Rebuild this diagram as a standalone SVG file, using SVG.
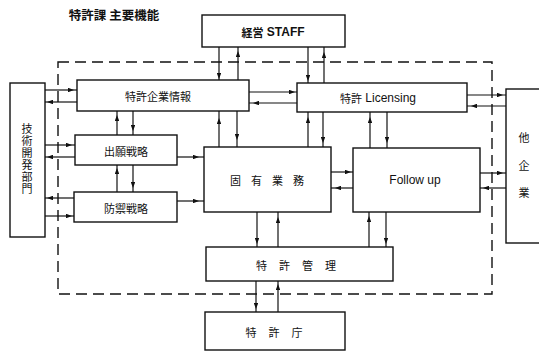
<svg xmlns="http://www.w3.org/2000/svg" width="539" height="351" viewBox="0 0 539 351">
<defs>
<style>
.box{fill:#fff;stroke:#111;stroke-width:1.4}
.c{fill:none;stroke:#111;stroke-width:1.2;marker-mid:url(#ah)}
.d{fill:none;stroke:#111;stroke-width:1.4;stroke-dasharray:11 6}
.t{font-family:"Noto Sans CJK JP","Liberation Sans",sans-serif;font-size:11px;fill:#111;text-anchor:middle;dominant-baseline:central}
.e{font-family:"Liberation Sans","Noto Sans CJK JP",sans-serif;font-size:12px;fill:#111;text-anchor:middle;dominant-baseline:central}
</style>
<marker id="ah" viewBox="0 0 8 6" refX="8" refY="3" markerWidth="6" markerHeight="4.5" orient="auto" markerUnits="userSpaceOnUse"><path d="M0 0L8 3L0 6z" fill="#111"/></marker>
</defs>
<text x="114" y="14" class="t" style="font-size:12.5px;font-weight:bold">特許課 主要機能</text>
<rect x="58" y="62" width="434" height="232" class="d"/>
<g id="connectors">
<path class="c" d="M219 47L219 79L219 80"/>
<path class="c" d="M238 80L238 51L238 47"/>
<path class="c" d="M308 47L308 81L308 83"/>
<path class="c" d="M324 83L324 52L324 47"/>
<path class="c" d="M249 92L295 92L297 92"/>
<path class="c" d="M297 103L253 103L249 103"/>
<path class="c" d="M219 147L219 118L219 111"/>
<path class="c" d="M237 111L237 140L237 147"/>
<path class="c" d="M308 148L308 117L308 112"/>
<path class="c" d="M323 112L323 143L323 148"/>
<path class="c" d="M370 148L370 117L370 112"/>
<path class="c" d="M387 112L387 143L387 148"/>
<path class="c" d="M117 135L117 115L117 111"/>
<path class="c" d="M133 111L133 131L133 135"/>
<path class="c" d="M117 192L117 168L117 165"/>
<path class="c" d="M133 165L133 188L133 192"/>
<path class="c" d="M177 157L199 157L204 157"/>
<path class="c" d="M177 201L199 201L204 201"/>
<path class="c" d="M331 172L351 172L353 172"/>
<path class="c" d="M353 188L335 188L331 188"/>
<path class="c" d="M257 212L257 244L257 247"/>
<path class="c" d="M278 247L278 217L278 212"/>
<path class="c" d="M369 247L369 216L369 212"/>
<path class="c" d="M386 212L386 244L386 247"/>
<path class="c" d="M256 281L256 309L256 312"/>
<path class="c" d="M278 312L278 284L278 281"/>
<path class="c" d="M45 90L74 90L77 90"/>
<path class="c" d="M77 102L47 102L45 102"/>
<path class="c" d="M45 145L72 145L75 145"/>
<path class="c" d="M75 157L47 157L45 157"/>
<path class="c" d="M74 198L47 198L45 198"/>
<path class="c" d="M45 216L72 216L74 216"/>
<path class="c" d="M467 95L503 95L506 95"/>
<path class="c" d="M506 106L471 106L467 106"/>
<path class="c" d="M480 173L503 173L506 173"/>
<path class="c" d="M506 188L483 188L480 188"/>
</g>
<g id="staff"><rect x="202" y="15" width="143" height="32" class="box"/><text x="273" y="32" class="e" style="font-weight:bold"><tspan style="font-family:'Noto Sans CJK JP',sans-serif;font-size:11px">経営</tspan> STAFF</text></g>
<g id="kigyo"><rect x="77" y="80" width="172" height="31" class="box"/><text x="158" y="96" class="t">特許企業情報</text></g>
<g id="licensing"><rect x="297" y="83" width="170" height="29" class="box"/><text x="378" y="98" class="e"><tspan style="font-family:'Noto Sans CJK JP',sans-serif;font-size:11px">特許</tspan> Licensing</text></g>
<g id="gijutsu"><rect x="10" y="83" width="35" height="154" class="box"/><text x="27" y="159" class="t" style="writing-mode:vertical-rl;text-orientation:upright;letter-spacing:1px">技術開発部門</text></g>
<g id="shutsugan"><rect x="75" y="135" width="102" height="30" class="box"/><text x="126" y="151" class="t">出願戦略</text></g>
<g id="bogyo"><rect x="74" y="192" width="103" height="30" class="box"/><text x="126" y="208" class="t">防禦戦略</text></g>
<g id="koyu"><rect x="204" y="147" width="127" height="65" class="box"/><text x="272" y="180" class="t" style="letter-spacing:10px">固有業務</text></g>
<g id="followup"><rect x="353" y="148" width="127" height="64" class="box"/><text x="415" y="180" class="e">Follow up</text></g>
<g id="takigyo"><rect x="506" y="89" width="40" height="154" class="box"/><text class="t"><tspan x="524" y="137">他</tspan><tspan x="524" y="165">企</tspan><tspan x="524" y="192">業</tspan></text></g>
<g id="kanri"><rect x="206" y="247" width="187" height="34" class="box"/><text x="302" y="265" class="t" style="letter-spacing:12px">特許管理</text></g>
<g id="tokkyocho"><rect x="205" y="312" width="140" height="38" class="box"/><text x="280" y="332" class="t" style="letter-spacing:12px">特許庁</text></g>
</svg>
